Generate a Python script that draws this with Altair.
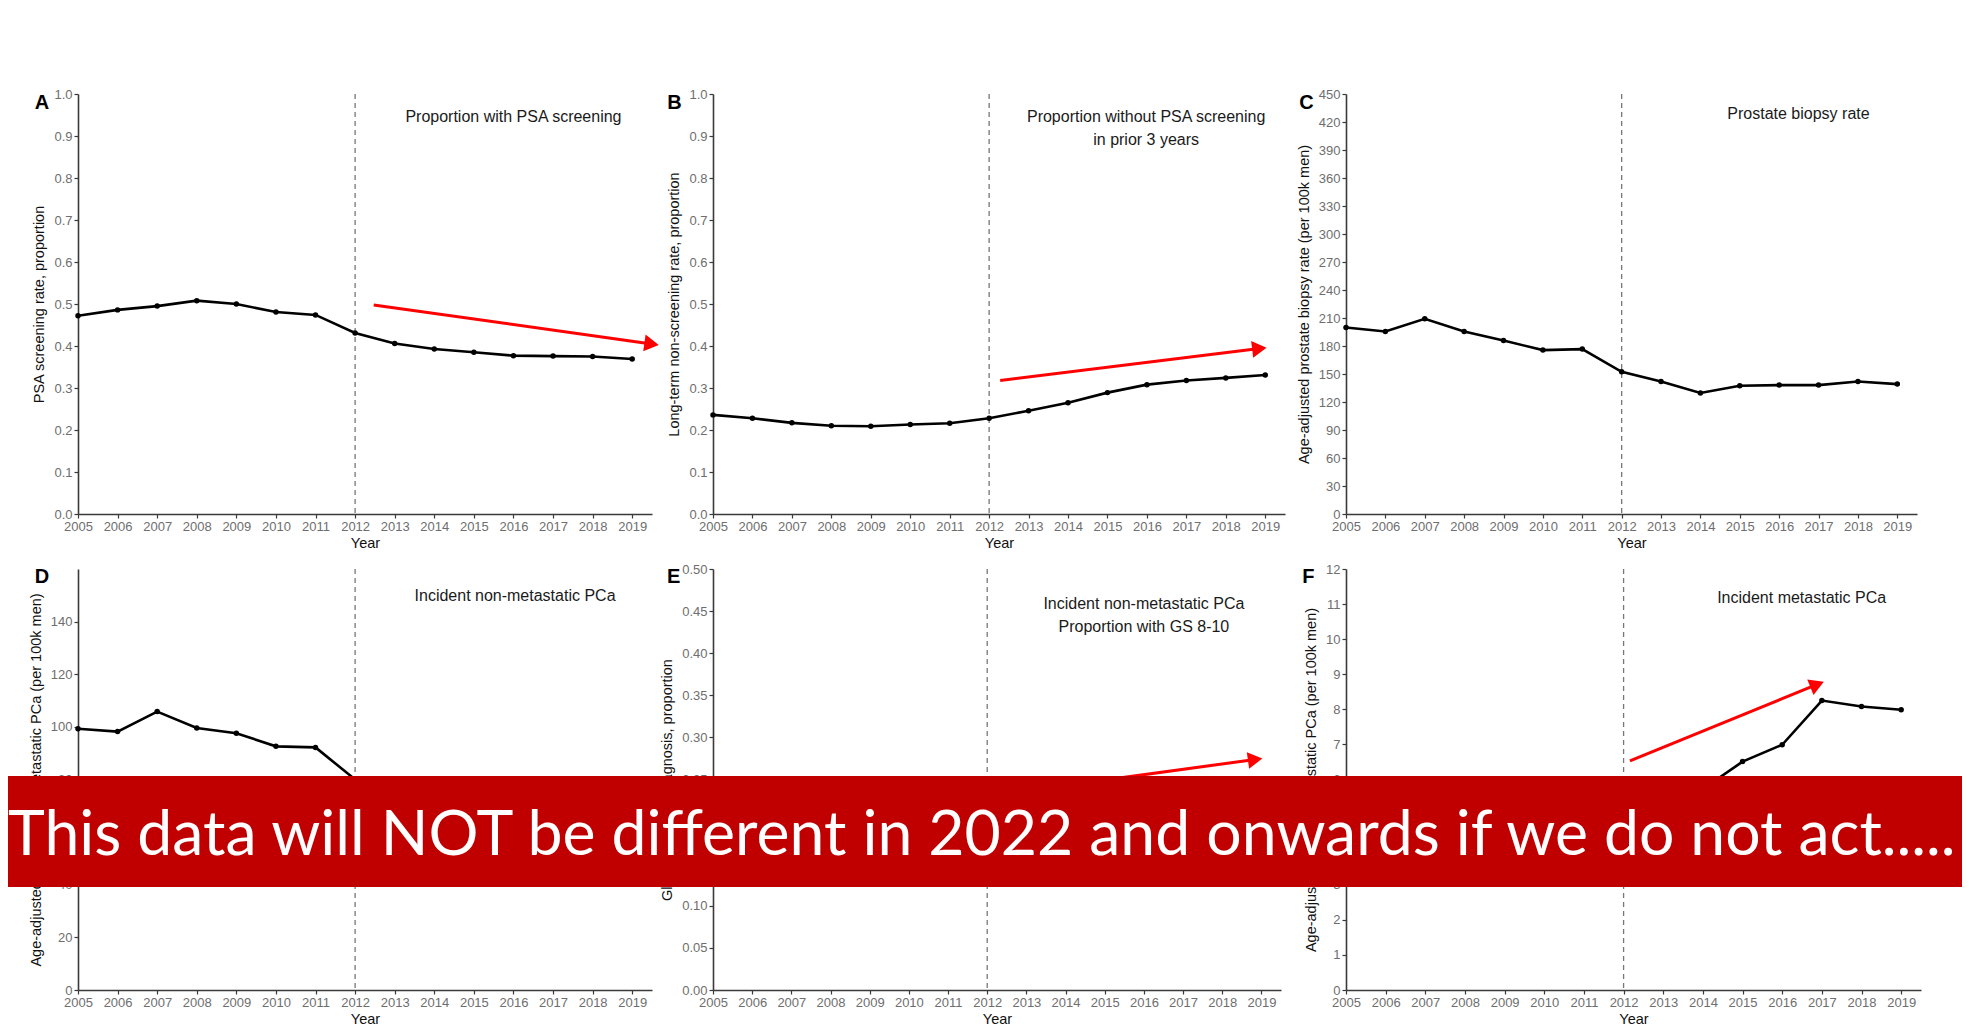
import altair as alt
import pandas as pd

# ---------------- data ----------------
YEARS = [2005, 2006, 2007, 2008, 2009, 2010, 2011, 2012, 2013, 2014, 2015, 2016, 2017, 2018, 2019]

psa_screening = [0.472, 0.486, 0.495, 0.508, 0.500, 0.481, 0.474, 0.431, 0.406, 0.393, 0.385, 0.377, 0.376, 0.375, 0.369]
non_screening = [0.236, 0.228, 0.217, 0.210, 0.209, 0.213, 0.216, 0.228, 0.246, 0.265, 0.289, 0.308, 0.318, 0.324, 0.331]
biopsy_rate = [199.9, 195.6, 209.1, 195.6, 185.9, 175.6, 176.7, 152.4, 142.0, 129.6, 137.4, 138.1, 138.1, 142.0, 139.2]
nonmet_incidence = [99.3, 98.2, 105.8, 99.6, 97.6, 92.6, 92.2, 80.0, 72.0, 66.0, 67.0, 68.0, 71.0, 72.0, 71.0]
gs810_share = [0.19, 0.18, 0.17, 0.17, 0.17, 0.17, 0.18, 0.19, 0.20, 0.21, 0.22, 0.22, 0.23, 0.23, 0.24]
met_incidence = [4.6, 4.5, 4.6, 4.7, 4.8, 4.9, 5.0, 5.2, 5.5, 5.73, 6.51, 6.99, 8.25, 8.08, 7.99]

TICKS_PROP = [0.0, 0.1, 0.2, 0.3, 0.4, 0.5, 0.6, 0.7, 0.8, 0.9, 1.0]
TICKS_BIOPSY = [0, 30, 60, 90, 120, 150, 180, 210, 240, 270, 300, 330, 360, 390, 420, 450]
TICKS_NONMET = [0, 20, 40, 60, 80, 100, 120, 140]
TICKS_GS = [0.0, 0.05, 0.10, 0.15, 0.20, 0.25, 0.30, 0.35, 0.40, 0.45, 0.50]
TICKS_MET = [0, 1, 2, 3, 4, 5, 6, 7, 8, 9, 10, 11, 12]

# red trend arrows: start (x1, y1), head centre (x2, y2), head rotation
ARROW_A = {"x1": 2012.47, "y1": 0.4976, "x2": 2019.49, "y2": 0.405, "angle": 8}
ARROW_B = {"x1": 2012.28, "y1": 0.318, "x2": 2018.85, "y2": 0.394, "angle": 353}
ARROW_E = {"x1": 2012.20, "y1": 0.2316, "x2": 2018.84, "y2": 0.2738, "angle": 352}
ARROW_F = {"x1": 2012.16, "y1": 6.53, "x2": 2016.88, "y2": 8.71, "angle": 338}

BANNER_TEXT = "This data will NOT be different in 2022 and onwards if we do not act....."

FONT = "Liberation Sans"
ONE = pd.DataFrame({"k": [0]})


def make_panel(vals, ydom, yticks, yfmt, ytitle, letter, letter_pos, note_lines, note_xy,
               arrow, width, height, frame=False, banner=False):
    df = pd.DataFrame({"year": YEARS, "value": vals})
    xs = alt.Scale(domain=[2005, 2019.5], nice=False, zero=False)
    ys = alt.Scale(domain=ydom, nice=False, zero=False)
    xax = alt.Axis(values=YEARS, format="d", title="Year", labelOverlap=False,
                   labelFlush=False, titlePadding=3)
    yax = alt.Axis(values=yticks, format=yfmt, title=ytitle, labelOverlap=False,
                   labelFlush=False, titlePadding=7)

    def X(f):
        return alt.X(f, scale=xs, axis=xax)

    def Y(f):
        return alt.Y(f, scale=ys, axis=yax)

    layers = []
    if frame:
        # invisible frame that fixes the extent of the whole figure
        layers.append(alt.Chart(ONE).mark_rect(fillOpacity=0, strokeOpacity=0, color="white").encode(
            x=alt.value(-70), x2=alt.value(1884), y=alt.value(-86), y2=alt.value(928)))
    dash = alt.Chart(pd.DataFrame({"cut": [2012]})).mark_rule(
        color="#777777", strokeDash=[5, 4], strokeWidth=1.3).encode(x=X("cut:Q"))
    line = alt.Chart(df).mark_line(color="black", strokeWidth=2.6).encode(
        x=X("year:Q"), y=Y("value:Q"))
    pts = alt.Chart(df).mark_circle(color="black", size=30, opacity=1).encode(
        x=X("year:Q"), y=Y("value:Q"))
    layers += [dash, line, pts]
    note_df = alt.Data(values=[{"nx": note_xy[0], "ny": note_xy[1], "t": note_lines}])
    note = alt.Chart(note_df).mark_text(font=FONT, fontSize=16, color="#1a1a1a",
                                        align="center", baseline="middle", lineHeight=23).encode(
        x=X("nx:Q"), y=Y("ny:Q"), text="t:N")
    layers.append(note)
    if arrow is not None:
        adf = pd.DataFrame([arrow])
        shaft = alt.Chart(adf).mark_rule(color="#ff0000", strokeWidth=3).encode(
            x=X("x1:Q"), y=Y("y1:Q"), x2="x2:Q", y2="y2:Q")
        head = alt.Chart(adf).mark_point(shape="triangle-right", filled=True, size=280,
                                         color="#ff0000", opacity=1,
                                         angle=arrow["angle"]).encode(
            x=X("x2:Q"), y=Y("y2:Q"))
        layers += [shaft, head]
    lab = alt.Chart(ONE).mark_text(text=letter, font=FONT, fontSize=20, fontWeight="bold",
                                   color="black", align="center", baseline="middle").encode(
        x=alt.value(letter_pos[0]), y=alt.value(letter_pos[1]))
    layers.append(lab)
    if banner:
        layers.append(alt.Chart(ONE).mark_rect(color="#c00000").encode(
            x=alt.value(-1338), x2=alt.value(616), y=alt.value(207), y2=alt.value(318)))
        layers.append(alt.Chart(ONE).mark_text(text=BANNER_TEXT, font="Lato", fontSize=62.5,
                                               color="white", align="left",
                                               baseline="alphabetic").encode(
            x=alt.value(-1338), y=alt.value(286)))
    return alt.layer(*layers).properties(width=width, height=height)


pA = make_panel(psa_screening, [0, 1], TICKS_PROP, ".1f", "PSA screening rate, proportion",
                "A", (-36, 8.5), ["Proportion with PSA screening"], (2016.0, 0.945),
                ARROW_A, 574, 420, frame=True)
pB = make_panel(non_screening, [0, 1], TICKS_PROP, ".1f", "Long-term non-screening rate, proportion",
                "B", (-38.5, 8.7), ["Proportion without PSA screening", "in prior 3 years"],
                (2015.98, 0.946), ARROW_B, 572, 420)
pC = make_panel(biopsy_rate, [0, 450], TICKS_BIOPSY, "d",
                "Age-adjusted prostate biopsy rate (per 100k men)",
                "C", (-39.5, 8.7), ["Prostate biopsy rate"], (2016.49, 428.3), None, 571, 420)
pD = make_panel(nonmet_incidence, [0, 160], TICKS_NONMET, "d",
                "Age-adjusted incident non-metastatic PCa (per 100k men)",
                "D", (-36, 8.3), ["Incident non-metastatic PCa"], (2016.04, 149.6), None, 574, 421)
pE = make_panel(gs810_share, [0, 0.5], TICKS_GS, ".2f", "Gleason 8-10 at diagnosis, proportion",
                "E", (-39.3, 7.7), ["Incident non-metastatic PCa", "Proportion with GS 8-10"],
                (2016.0, 0.459), ARROW_E, 568, 421)
pF = make_panel(met_incidence, [0, 12], TICKS_MET, "d",
                "Age-adjusted incident metastatic PCa (per 100k men)",
                "F", (-37.7, 7.7), ["Incident metastatic PCa"], (2016.49, 11.18), ARROW_F, 575, 421,
                banner=True)

chart = alt.concat(pA, pB, pC, pD, pE, pF, columns=3, bounds="flush",
                   spacing=alt.RowColnumber(row=55, column=61)).properties(
    padding=0, background="white"
).configure_view(stroke=None).configure_axis(
    grid=False, domainColor="#3a3a3a", domainWidth=1.6, tickColor="#3a3a3a", tickSize=4,
    tickWidth=1.2, labelColor="#6e6e6e", labelFont=FONT, labelFontSize=13, labelPadding=2,
    titleFont=FONT, titleFontSize=14.5, titleFontWeight="normal", titleColor="#111111"
)

chart.save("out.html", embed_options={"renderer": "svg", "actions": False})
